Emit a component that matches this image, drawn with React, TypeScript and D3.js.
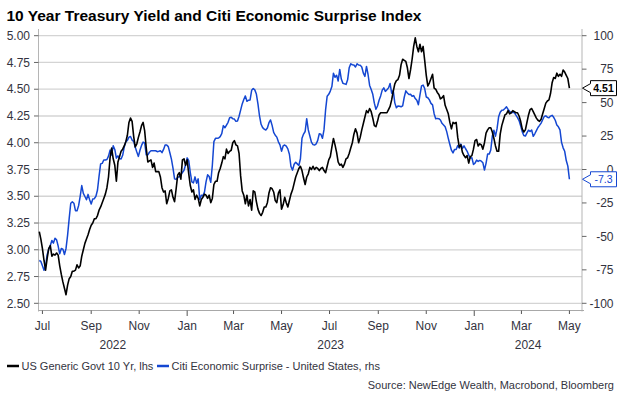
import { useEffect, useRef } from "react";
import * as d3 from "d3";

// observations every other day, 27 Jun 2022 .. 1 May 2024
const dates = d3.timeDay.range(new Date(2022, 5, 27), new Date(2024, 4, 2), 2);

const yield10y = [
    3.17, 3.1, 3.01, 2.9, 2.81, 2.92, 3.01, 3.04, 2.94, 2.96,
    2.95, 2.97, 2.95, 2.85, 2.77, 2.7, 2.64, 2.58, 2.67, 2.73,
    2.75, 2.8, 2.8, 2.81, 2.86, 2.83, 2.85, 2.94, 3.0, 3.06,
    3.1, 3.14, 3.19, 3.23, 3.25, 3.29, 3.29, 3.32, 3.37, 3.4,
    3.44, 3.48, 3.52, 3.58, 3.68, 3.86, 3.95, 3.85, 3.79, 3.64,
    3.82, 3.87, 3.92, 3.94, 3.97, 4.01, 4.07, 4.19, 4.23, 4.2,
    4.06, 3.96, 3.99, 4.05, 4.1, 4.16, 4.19, 4.11, 3.95, 3.82,
    3.83, 3.84, 3.77, 3.81, 3.73, 3.73, 3.73, 3.68, 3.58, 3.54,
    3.55, 3.43, 3.48, 3.55, 3.56, 3.49, 3.45, 3.57, 3.7, 3.72,
    3.66, 3.84, 3.85, 3.79, 3.84, 3.71, 3.6, 3.54, 3.56, 3.47,
    3.51, 3.48, 3.41, 3.47, 3.49, 3.52, 3.51, 3.48, 3.51, 3.44,
    3.48, 3.61, 3.64, 3.64, 3.72, 3.76, 3.81, 3.87, 3.85, 3.94,
    3.9, 3.92, 3.93, 4.0, 4.02, 3.98, 3.97, 3.9, 3.69, 3.55,
    3.51, 3.43, 3.51, 3.41, 3.47, 3.37, 3.55, 3.54, 3.45, 3.38,
    3.34, 3.32, 3.35, 3.4, 3.4, 3.44, 3.53, 3.58, 3.57, 3.54,
    3.46, 3.44, 3.53, 3.56, 3.38, 3.42, 3.49, 3.44, 3.4, 3.46,
    3.52, 3.56, 3.62, 3.68, 3.72, 3.76, 3.78, 3.74, 3.67, 3.61,
    3.68, 3.71, 3.77, 3.75, 3.78, 3.75, 3.77, 3.76, 3.74, 3.76,
    3.77, 3.74, 3.72, 3.78, 3.84, 3.87, 3.96, 4.04, 3.98, 3.91,
    3.82, 3.79, 3.8, 3.77, 3.8, 3.85, 3.86, 3.9, 3.95, 4.0,
    4.08, 4.13, 4.09, 4.0, 4.05, 4.12, 4.18, 4.24, 4.3, 4.28,
    4.32, 4.29, 4.23, 4.16, 4.15, 4.2, 4.26, 4.28, 4.28, 4.28,
    4.28, 4.28, 4.31, 4.34, 4.4, 4.48, 4.55, 4.58, 4.59, 4.63,
    4.73, 4.78, 4.77, 4.76, 4.7, 4.6, 4.68, 4.78, 4.9, 4.98,
    4.9, 4.85, 4.92, 4.85, 4.9, 4.77, 4.63, 4.53, 4.56, 4.6,
    4.64, 4.51, 4.5, 4.47, 4.45, 4.41, 4.42, 4.44, 4.35, 4.31,
    4.27, 4.19, 4.13, 4.19, 4.18, 4.19, 4.05, 3.96, 3.98, 3.91,
    3.88, 3.86, 3.88, 3.81, 3.87, 3.88, 3.94, 4.02, 4.03, 3.97,
    3.99, 3.98, 3.94, 4.0, 4.09, 4.12, 4.14, 4.14, 4.1, 4.04,
    3.97, 3.92, 3.92, 4.08, 4.16, 4.21, 4.26, 4.27, 4.3, 4.27,
    4.28, 4.3, 4.29, 4.28, 4.28, 4.25, 4.2, 4.13, 4.1, 4.12,
    4.19, 4.26, 4.31, 4.32, 4.29, 4.26, 4.23, 4.21, 4.2, 4.22,
    4.27, 4.32, 4.37, 4.39, 4.4, 4.46, 4.56, 4.61, 4.6, 4.65,
    4.62, 4.64, 4.62, 4.68, 4.66, 4.63, 4.6, 4.51,
];

const citiSurprise = [
    -68, -68.7, -72, -75.3, -72, -63.6, -59.5, -56.8, -53, -55,
    -51.4, -52.6, -57.2, -63, -59, -59.5, -63.5, -59, -49, -36.7,
    -25.2, -24.2, -25.2, -30.8, -30.8, -27, -20, -12, -17.8, -20.2,
    -22.6, -18.6, -22.6, -25.8, -22, -21.8, -20, -15.3, -5, 4.2,
    4.6, 7.1, 7.1, 7.5, 10, 14.5, 10.8, 17.8, 15, 8.5,
    10.2, 8.2, 7.8, 10.6, 16.8, 20.8, 21.8, 24.2, 24.7, 22,
    21, 16.6, 13, 9.8, 14.4, 18, 20.5, 19.8, 11, 11,
    12.9, 14, 14, 14, 14, 13.3, 13.6, 14, 12.6, 15,
    18.3, 18.3, 17.1, 12.5, 7.8, 1, -7, -7.4, -5.8, -5.4,
    -4.2, -2.2, -0.6, 3.5, 8.7, 6.6, -2.3, -9.2, -10, -5.5,
    -10.2, -7, -22.5, -19.3, -19.6, -16.9, -9.3, -4, -5.2, -9.6,
    3, 20.8, 23.3, 23.3, 23.5, 24.6, 26.8, 32.8, 31.2, 33.2,
    35.3, 38.7, 39, 38, 37.7, 36, 36.3, 39.8, 44.4, 49,
    52.3, 55, 51, 51.8, 52, 59.2, 60.5, 59.5, 56.4, 49,
    40, 33.8, 31.3, 30.2, 29.5, 31, 35, 37, 33, 27.8,
    25.6, 24.2, 20.7, 18.4, 13.7, 17.6, 18.3, 17.4, 15.4, 11.4,
    2.2, -0.5, 3.9, 5.4, 4.2, 3, 8, 23.4, 26.5, 28.4,
    38, 29.6, 25, 20.5, 18.6, 18.3, 19.1, 21.8, 26.7, 26.4,
    23.3, 29.8, 44.5, 54.8, 56.2, 58.6, 62, 72, 69, 70.4,
    66.2, 74.8, 67.6, 64.4, 64, 63.6, 67, 76, 79, 78.3,
    78.1, 76.6, 79, 78.1, 78, 76.6, 72, 69.6, 77, 71,
    62.8, 59.8, 56.2, 49.6, 45, 47.5, 51.8, 55, 59.3, 61,
    58.4, 59.6, 61, 64.3, 57, 59.2, 49.8, 46.2, 47.5, 47.3,
    46.9, 47.5, 54, 58.8, 57.2, 56.1, 56.2, 54.7, 55.2, 53,
    51.7, 48.4, 55.7, 62.5, 63.1, 60.5, 54.2, 53.6, 52, 49.4,
    48.3, 41.7, 37.9, 38.2, 38, 37, 34.5, 33.3, 32, 28.3,
    23.3, 18.7, 14.4, 12.4, 15, 15, 18, 16, 19, 15.8,
    17.7, 15.5, 13.6, 10.7, 8.6, 8.8, 3.8, 4.8, 7, 6,
    6.8, 6.2, 5, -0.4, 4.6, 11.5, 11.5, 14.6, 25, 29.3,
    24.9, 30.5, 39.4, 42.8, 44.3, 44.5, 45.6, 46.8, 44.9, 43.5,
    42.4, 42.8, 42.5, 40.6, 38.8, 36.6, 32.6, 28.3, 25.4, 25,
    27.4, 29.4, 28.4, 29.5, 24.8, 26.7, 29, 31.4, 33, 34.7,
    37.2, 39.6, 40.1, 39, 38.6, 39.9, 40.5, 39, 36.8, 33.2,
    31.9, 29.6, 20.3, 16.2, 13.6, 6.7, 2.5, -7.3,
];

const leftTicks = [2.5, 2.75, 3, 3.25, 3.5, 3.75, 4, 4.25, 4.5, 4.75, 5];
const rightTicks = [-100, -75, -50, -25, 0, 25, 50, 75, 100];
const years = [2022, 2023, 2024];

const title = "10 Year Treasury Yield and Citi Economic Surprise Index";
const seriesNames = ["US Generic Govt 10 Yr, lhs", "Citi Economic Surprise - United States, rhs"];
const source = "Source: NewEdge Wealth, Macrobond, Bloomberg";

const BLUE = "#1447d2";
const TEXT = "#333340";
const FONT = "'Liberation Sans', Arial, sans-serif";

export default function App() {
    const svgRef = useRef<SVGSVGElement>(null);

    useEffect(() => {
        if (!svgRef.current) return;
        const svg = d3.select(svgRef.current);
        svg.selectAll("*").remove();

        const left = 38.5;
        const right = 582;
        const top = 35.7;
        const bottom = 303.3;
        const axisY = 310.5;

        const x = d3
            .scaleTime()
            .domain([new Date(2022, 5, 26), new Date(2024, 4, 17)])
            .range([left, right]);
        const yL = d3.scaleLinear().domain([2.5, 5]).range([bottom, top]);
        const yR = d3.scaleLinear().domain([-100, 100]).range([bottom, top]);

        // title
        svg.append("text")
            .attr("x", 6.5)
            .attr("y", 21)
            .attr("font-size", 15.5)
            .attr("font-weight", "bold")
            .attr("fill", "#000")
            .text(title);

        // grid
        svg.append("g")
            .selectAll("line")
            .data(leftTicks)
            .join("line")
            .attr("x1", left)
            .attr("x2", right)
            .attr("y1", (d) => yL(d))
            .attr("y2", (d) => yL(d))
            .attr("stroke", "#d4d4d4")
            .attr("stroke-width", 1.3);

        // axis lines
        svg.append("line")
            .attr("x1", left).attr("x2", left)
            .attr("y1", 29).attr("y2", axisY + 1)
            .attr("stroke", "#b5b5b5");
        svg.append("line")
            .attr("x1", right).attr("x2", right)
            .attr("y1", 29).attr("y2", axisY + 1)
            .attr("stroke", "#b5b5b5");
        svg.append("line")
            .attr("x1", left).attr("x2", right + 2)
            .attr("y1", axisY).attr("y2", axisY)
            .attr("stroke", "#a8a8a8");

        // left axis
        const gl = svg.append("g");
        gl.selectAll("line")
            .data(leftTicks)
            .join("line")
            .attr("x1", left - 4.5)
            .attr("x2", left)
            .attr("y1", (d) => yL(d))
            .attr("y2", (d) => yL(d))
            .attr("stroke", "#666");
        gl.selectAll("text")
            .data(leftTicks)
            .join("text")
            .attr("x", 30)
            .attr("y", (d) => yL(d) + 4.2)
            .attr("text-anchor", "end")
            .attr("font-size", 12)
            .attr("fill", TEXT)
            .text((d) => d3.format(".2f")(d));

        // right axis
        const gr = svg.append("g");
        gr.selectAll("line")
            .data(rightTicks)
            .join("line")
            .attr("x1", right)
            .attr("x2", right + 4.5)
            .attr("y1", (d) => yR(d))
            .attr("y2", (d) => yR(d))
            .attr("stroke", "#666");
        gr.selectAll("text")
            .data(rightTicks)
            .join("text")
            .attr("x", 613.5)
            .attr("y", (d) => yR(d) + 4.2)
            .attr("text-anchor", "end")
            .attr("font-size", 12)
            .attr("fill", TEXT)
            .text((d) => String(d));

        // x axis: every other month, longer tick at January
        const months = x.ticks(d3.timeMonth.every(2)!);
        const gx = svg.append("g");
        gx.selectAll("line")
            .data(months)
            .join("line")
            .attr("x1", (d) => x(d))
            .attr("x2", (d) => x(d))
            .attr("y1", axisY)
            .attr("y2", (d) => (d.getMonth() === 0 ? axisY + 5.5 : axisY + 3.5))
            .attr("stroke", "#555");
        gx.selectAll("text")
            .data(months)
            .join("text")
            .attr("x", (d) => x(d))
            .attr("y", 329.5)
            .attr("text-anchor", "middle")
            .attr("font-size", 12)
            .attr("fill", TEXT)
            .text((d) => d3.timeFormat("%b")(d));

        const [d0, d1] = x.domain();
        svg.append("g")
            .selectAll("text")
            .data(years)
            .join("text")
            .attr("x", (yr) => {
                const a = Math.max(+d0, +new Date(yr, 0, 1));
                const b = Math.min(+d1, +new Date(yr + 1, 0, 1));
                return (x(new Date(a)) + x(new Date(b))) / 2;
            })
            .attr("y", 349)
            .attr("text-anchor", "middle")
            .attr("font-size", 12)
            .attr("fill", TEXT)
            .text((yr) => String(yr));

        // series
        const lineR = d3
            .line<number>()
            .x((_, i) => x(dates[i]))
            .y((d) => yR(d));
        const lineL = d3
            .line<number>()
            .x((_, i) => x(dates[i]))
            .y((d) => yL(d));

        svg.append("path")
            .attr("d", lineR(citiSurprise))
            .attr("fill", "none")
            .attr("stroke", BLUE)
            .attr("stroke-width", 1.5)
            .attr("stroke-linejoin", "round");
        svg.append("path")
            .attr("d", lineL(yield10y))
            .attr("fill", "none")
            .attr("stroke", "#000")
            .attr("stroke-width", 1.6)
            .attr("stroke-linejoin", "round");

        // last value callouts (the rhs one partly covers the "0" tick label, as in the source chart)
        const lastYield = yield10y[yield10y.length - 1];
        const lastSurprise = citiSurprise[citiSurprise.length - 1];
        const callouts = [
            { y: yL(lastYield), color: "#000", bold: true, label: lastYield.toFixed(2) },
            { y: yR(lastSurprise), color: BLUE, bold: false, label: lastSurprise.toFixed(1) },
        ];
        callouts.forEach((c) => {
            const bx = 590.5;
            const bw = 26;
            const h = 7.5;
            svg.append("path")
                .attr(
                    "d",
                    `M${right + 0.5},${c.y} L${bx},${c.y - 4.5} L${bx},${c.y - h} L${bx + bw},${c.y - h} L${bx + bw},${c.y + h} L${bx},${c.y + h} L${bx},${c.y + 4.5} Z`
                )
                .attr("fill", "#fff")
                .attr("stroke", c.color)
                .attr("stroke-width", 1);
            svg.append("text")
                .attr("x", bx + bw / 2)
                .attr("y", c.y + 3.8)
                .attr("text-anchor", "middle")
                .attr("font-size", 10.5)
                .attr("font-weight", c.bold ? "bold" : "normal")
                .attr("fill", c.color)
                .text(c.label);
        });

        // legend
        const lg = svg.append("g").attr("font-size", 11).attr("fill", TEXT);
        const legendColors = ["#000", BLUE];
        const legendX = [7, 157];
        seriesNames.forEach((name, i) => {
            lg.append("line")
                .attr("x1", legendX[i])
                .attr("x2", legendX[i] + 12)
                .attr("y1", 366)
                .attr("y2", 366)
                .attr("stroke", legendColors[i])
                .attr("stroke-width", 2.5);
            lg.append("text")
                .attr("x", legendX[i] + 14.5)
                .attr("y", 370)
                .text(name);
        });

        svg.append("text")
            .attr("x", 614)
            .attr("y", 389)
            .attr("text-anchor", "end")
            .attr("font-size", 11)
            .attr("fill", TEXT)
            .text(source);
    }, []);

    return (
        <div style={{ position: "absolute", left: 0, top: 0 }}>
            <svg ref={svgRef} width={624} height={396} style={{ display: "block", fontFamily: FONT, background: "#fff" }} />
        </div>
    );
}
